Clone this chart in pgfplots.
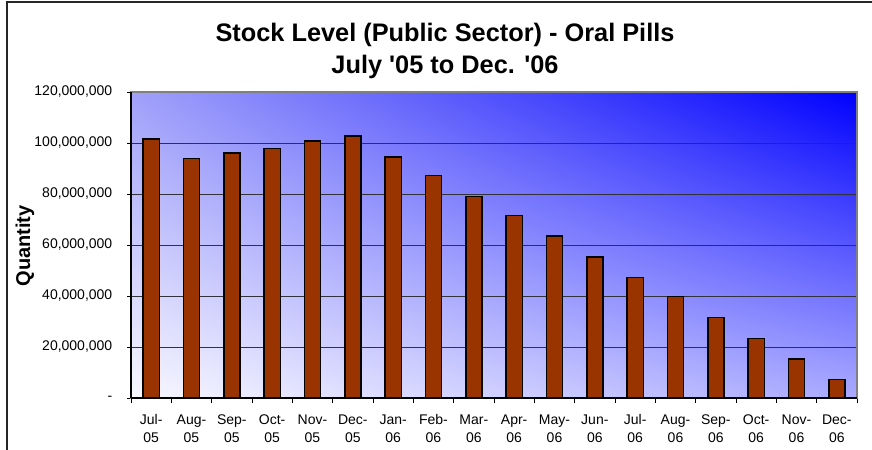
\documentclass[border=0pt]{standalone}
\usepackage{fontspec}
\setmainfont{Liberation Sans}
\usepackage{pgfplots}
\pgfplotsset{compat=1.18}
\usetikzlibrary{shadings}
\definecolor{barred}{RGB}{153,51,0}
\definecolor{gridc}{RGB}{50,50,60}
\definecolor{frameg}{RGB}{128,128,128}
\definecolor{cLL}{RGB}{248,248,255}
\definecolor{cUR}{RGB}{0,0,255}
\definecolor{cUL}{RGB}{160,160,250}
\definecolor{cLR}{RGB}{170,170,255}
\begin{document}
\begin{tikzpicture}
\useasboundingbox (0,0) rectangle (654pt,337.5pt);
\draw[line width=1.1pt, black!85] (5.25pt,0) -- (5.25pt,336pt) -- (654pt,336pt);
\begin{axis}[
  at={(98.25pt,39pt)}, anchor=south west,
  scale only axis, width=544.5pt, height=229.5pt,
  xmin=-0.5, xmax=17.5, ymin=0, ymax=120000000,
  scaled y ticks=false,
  axis background/.style={shade, lower left=cLL, upper right=cUR, upper left=cUL, lower right=cLR},
  axis line style={draw=frameg, line width=1pt},
  ymajorgrids, grid style={gridc, line width=0.7pt},
  ytick={0,20000000,40000000,60000000,80000000,100000000,120000000},
  yticklabels={{-\hspace{13pt}},{20,000,000},{40,000,000},{60,000,000},{80,000,000},{100,000,000},{120,000,000}},
  xtick={0,...,17},
  xticklabels={{Jul-\\05},{Aug-\\05},{Sep-\\05},{Oct-\\05},{Nov-\\05},{Dec-\\05},{Jan-\\06},{Feb-\\06},{Mar-\\06},{Apr-\\06},{May-\\06},{Jun-\\06},{Jul-\\06},{Aug-\\06},{Sep-\\06},{Oct-\\06},{Nov-\\06},{Dec-\\06}},
  major x tick style={draw=none},
  minor xtick={-0.5,0.5,...,17.5},
  minor tick length=4pt, major tick length=3pt,
  tick align=outside, tick pos=left,
  tick style={black, line width=0.6pt},
  xticklabel style={align=center, font=\fontsize{10.5}{13.5}\selectfont, yshift=-6pt},
  yticklabel style={font=\fontsize{10.5}{12}\selectfont, xshift=-7.5pt},
  clip=false,
]
\addplot[ybar, bar width=0.4, fill=barred, draw=black, line width=1.1pt] coordinates {
(0,101500000) (1,94000000) (2,96100000) (3,97900000) (4,100800000) (5,102700000)
(6,94600000) (7,87200000) (8,79100000) (9,71600000) (10,63500000) (11,55300000)
(12,47200000) (13,39700000) (14,31600000) (15,23400000) (16,15300000) (17,7200000)
};
\draw[black, line width=0.8pt] (rel axis cs:0,0) -- (rel axis cs:0,1);
\draw[black, line width=0.8pt] (rel axis cs:0,0) -- (rel axis cs:1,0);
\end{axis}
\node[font=\bfseries\fontsize{19}{22}\selectfont] at (333.75pt,311.5pt) {Stock Level (Public Sector) - Oral Pills};
\node[font=\bfseries\fontsize{19}{22}\selectfont] at (333.75pt,287.5pt) {July \textquotesingle05 to Dec. \textquotesingle06};
\node[font=\bfseries\fontsize{15}{17}\selectfont, rotate=90] at (18.75pt,153pt) {Quantity};
\end{tikzpicture}
\end{document}
